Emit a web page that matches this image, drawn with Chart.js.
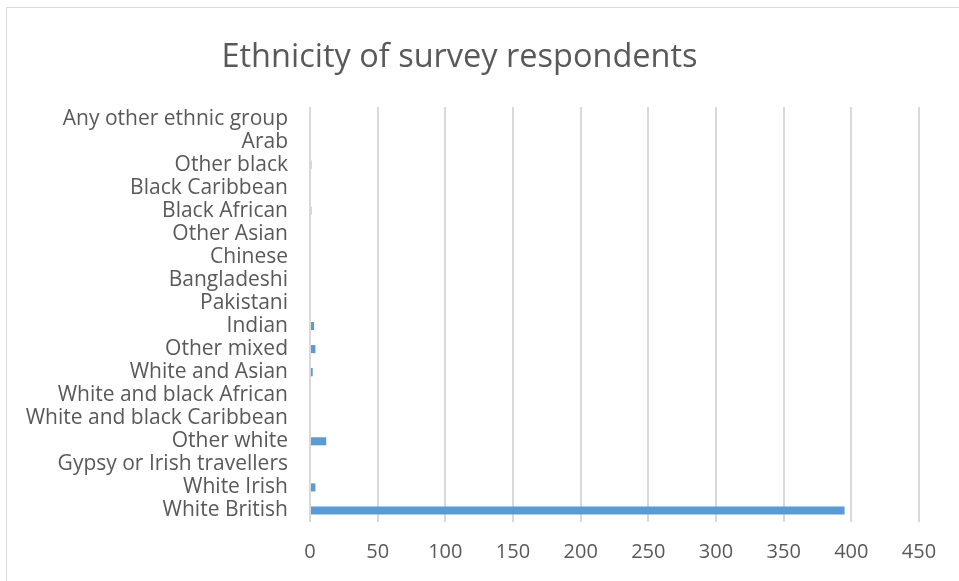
<!DOCTYPE html>
<html>
<head>
<meta charset="utf-8">
<script src="https://cdn.jsdelivr.net/npm/chart.js@4.4.1/dist/chart.umd.min.js"></script>
<style>
  html, body { margin: 0; padding: 0; background: #ffffff; }
  body { width: 959px; height: 581px; position: relative; overflow: hidden; }
  #frame {
    position: absolute; left: 6px; top: 7px; width: 960px; height: 620px;
    border: 1.5px solid #d9d9d9; box-sizing: border-box;
  }
  #wrap { position: absolute; left: 0; top: 0; width: 959px; height: 581px; }
</style>
</head>
<body>
<div id="frame"></div>
<div id="wrap"><canvas id="chart" width="959" height="581"></canvas></div>
<script>
// Respondent counts by ethnic group (bottom row first)
const categories = [
  "White British",
  "White Irish",
  "Gypsy or Irish travellers",
  "Other white",
  "White and black Caribbean",
  "White and black African",
  "White and Asian",
  "Other mixed",
  "Indian",
  "Pakistani",
  "Bangladeshi",
  "Chinese",
  "Other Asian",
  "Black African",
  "Black Caribbean",
  "Other black",
  "Arab",
  "Any other ethnic group"
];
const respondents = [395, 4, 0, 12, 0, 0, 2, 4, 3, 0, 0, 0, 0, 1, 0, 1, 0, 0];
const axisMin = 0;
const axisMax = 450;
const axisStep = 50;

const textColor = "#595959";
const fontFamily = "'Open Sans', Lato, sans-serif";

new Chart(document.getElementById("chart"), {
  type: "bar",
  data: {
    labels: categories,
    datasets: [{
      data: respondents,
      backgroundColor: "#5b9bd5",
      borderWidth: 0,
      categoryPercentage: 1,
      barPercentage: 0.35
    }]
  },
  options: {
    indexAxis: "y",
    responsive: false,
    animation: false,
    devicePixelRatio: 1,
    layout: { padding: { left: 0, right: 40, top: 0, bottom: 0 } },
    plugins: {
      legend: { display: false },
      tooltip: { enabled: false },
      title: {
        display: true,
        text: "Ethnicity of survey respondents",
        color: textColor,
        font: { family: fontFamily, size: 32.5, weight: "normal" },
        padding: { top: 38, bottom: 30 }
      }
    },
    scales: {
      x: {
        min: axisMin,
        max: axisMax,
        ticks: {
          stepSize: axisStep,
          color: textColor,
          font: { family: fontFamily, size: 20 },
          padding: 18
        },
        grid: { color: "#d9d9d9", lineWidth: 2, drawTicks: false },
        border: { display: false },
        afterFit(scale) { scale.height = 59; }
      },
      y: {
        reverse: true,
        ticks: {
          color: textColor,
          font: { family: fontFamily, size: 21 },
          padding: 22,
          autoSkip: false
        },
        grid: { display: false, drawTicks: false },
        border: { display: false },
        afterFit(scale) { scale.width = 310; }
      }
    }
  }
});
</script>
</body>
</html>
